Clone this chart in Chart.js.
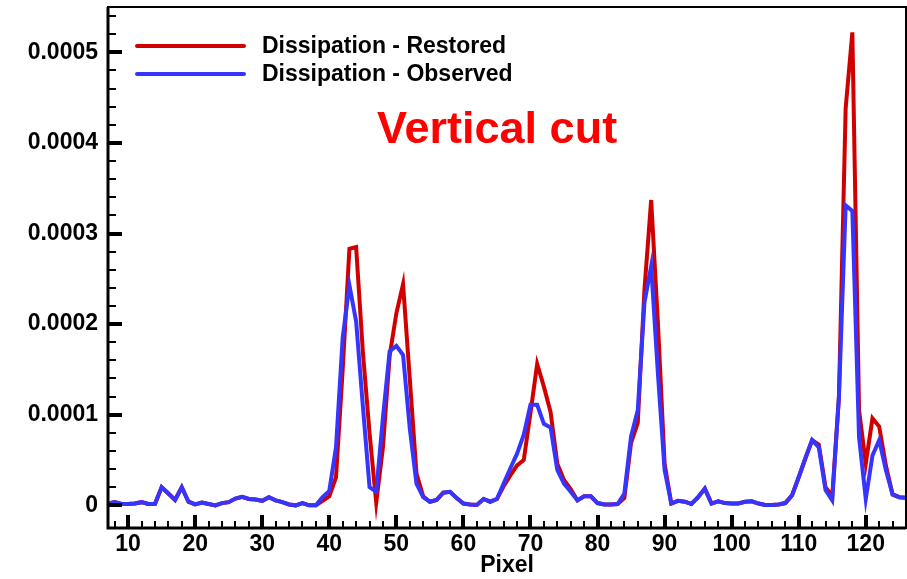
<!DOCTYPE html>
<html>
<head>
<meta charset="utf-8">
<script src="https://cdn.jsdelivr.net/npm/chart.js@4/dist/chart.umd.min.js"></script>
<style>
  html, body { margin: 0; padding: 0; background: #fff; }
  #wrap { width: 907px; height: 579px; }
</style>
</head>
<body>
<div id="wrap"><canvas id="cut"></canvas></div>
<script>
"use strict";

// pixel index along the vertical cut
const pixels = [
  7, 8, 9, 10, 11, 12, 13, 14, 15, 16, 17, 18, 19, 20, 21, 22, 23, 24, 25, 26,
  27, 28, 29, 30, 31, 32, 33, 34, 35, 36, 37, 38, 39, 40, 41, 42, 43, 44, 45, 46,
  47, 48, 49, 50, 51, 52, 53, 54, 55, 56, 57, 58, 59, 60, 61, 62, 63, 64, 65, 66,
  67, 68, 69, 70, 71, 72, 73, 74, 75, 76, 77, 78, 79, 80, 81, 82, 83, 84, 85, 86,
  87, 88, 89, 90, 91, 92, 93, 94, 95, 96, 97, 98, 99, 100, 101, 102, 103, 104, 105, 106,
  107, 108, 109, 110, 111, 112, 113, 114, 115, 116, 117, 118, 119, 120, 121, 122, 123, 124, 125, 126
];

// dissipation, in units of 1e-5
const restored = [
  0.2, 0.35, 0.15, 0.15, 0.2, 0.35, 0.15, 0.15, 2.0, 1.3, 0.6, 2.0, 0.4, 0.1, 0.3, 0.15, 0.0, 0.25, 0.35, 0.75,
  0.95, 0.7, 0.65, 0.5, 0.9, 0.55, 0.35, 0.1, 0.0, 0.25, 0.0, 0.0, 0.5, 1.0, 3.1, 15, 28.3, 28.5, 17, 8,
  0.3, 6.4, 16.5, 21.2, 24.4, 14, 3.5, 1.0, 0.4, 0.6, 1.4, 1.5, 0.8, 0.2, 0.1, 0.05, 0.7, 0.4, 0.7, 2.1,
  3.3, 4.4, 5.0, 10.2, 15.6, 13.1, 10.3, 4.6, 2.8, 1.8, 0.55, 1.0, 1.0, 0.25, 0.1, 0.1, 0.15, 0.8, 6.9, 9.1,
  23.8, 33.7, 20.2, 4.6, 0.2, 0.5, 0.4, 0.15, 0.9, 1.85, 0.2, 0.45, 0.25, 0.2, 0.2, 0.4, 0.45, 0.2, 0.05, 0.05,
  0.1, 0.25, 1.1, 3.1, 5.2, 7.2, 6.7, 2.0, 1.0, 12, 43.8, 52.2, 10.5, 4.6, 9.6, 8.7, 4.4, 1.2, 0.9, 0.85
];

const observed = [
  0.2, 0.35, 0.15, 0.15, 0.2, 0.35, 0.15, 0.15, 2.0, 1.3, 0.6, 2.0, 0.4, 0.1, 0.3, 0.15, 0.0, 0.25, 0.35, 0.75,
  0.95, 0.7, 0.65, 0.5, 0.9, 0.55, 0.35, 0.1, 0.0, 0.25, 0.0, 0.0, 0.9, 1.6, 6.4, 18.5, 24.3, 20.3, 11, 2.0,
  1.5, 9.7, 17.0, 17.6, 16.6, 8.5, 2.4, 0.9, 0.4, 0.6, 1.4, 1.5, 0.8, 0.2, 0.1, 0.05, 0.7, 0.4, 0.7, 2.4,
  4.1, 5.7, 7.8, 11.1, 11.1, 9.0, 8.6, 3.9, 2.4, 1.5, 0.55, 1.0, 1.0, 0.25, 0.1, 0.1, 0.15, 1.3, 7.6, 10.5,
  22.4, 26.4, 14.6, 3.9, 0.2, 0.5, 0.4, 0.15, 0.9, 1.85, 0.2, 0.45, 0.25, 0.2, 0.2, 0.4, 0.45, 0.2, 0.05, 0.05,
  0.1, 0.25, 1.1, 3.1, 5.2, 7.2, 6.4, 1.7, 0.55, 12, 33.1, 32.5, 7.5, 0.7, 5.5, 7.2, 3.9, 1.2, 0.9, 0.85
];

const yTickValues = [0, 10, 20, 30, 40, 50];
const yTickLabels = ['0', '0.0001', '0.0002', '0.0003', '0.0004', '0.0005'];
const seriesNames = ['Dissipation - Restored', 'Dissipation - Observed'];

const RED = '#d10000';
const BLUE = '#3535ff';
const FONT = '"Liberation Sans", Arial, sans-serif';

function toPoints(ys) {
  return pixels.map((p, i) => ({ x: p, y: ys[i] }));
}

// ticks pointing into the plot, box frame, legend and caption
const decorations = {
  id: 'decorations',
  afterDatasetsDraw(chart) {
    let ctx = chart.ctx;
    let area = chart.chartArea;
    let xs = chart.scales.x;
    let ys = chart.scales.y;

    ctx.save();
    ctx.strokeStyle = '#000';
    ctx.lineCap = 'butt';

    // y ticks: minor every 2, major every 10
    for (let v = 0; v <= 54; v += 2) {
      let py = Math.round(ys.getPixelForValue(v));
      let major = v % 10 === 0;
      ctx.lineWidth = major ? 4 : 2;
      ctx.beginPath();
      ctx.moveTo(area.left, py);
      ctx.lineTo(area.left + (major ? 14 : 8), py);
      ctx.stroke();
    }

    // x ticks: minor every 2, major every 10
    for (let v = 8; v <= 126; v += 2) {
      let px = Math.round(xs.getPixelForValue(v));
      let major = v % 10 === 0;
      ctx.lineWidth = major ? 4 : 2;
      ctx.beginPath();
      ctx.moveTo(px, area.bottom);
      ctx.lineTo(px, area.bottom - (major ? 13 : 7));
      ctx.stroke();
    }

    // frame
    ctx.lineWidth = 2;
    ctx.strokeRect(area.left, area.top, area.right - area.left, area.bottom - area.top);
    ctx.lineWidth = 3;
    ctx.beginPath();
    ctx.moveTo(area.left, area.top);
    ctx.lineTo(area.left, area.bottom);
    ctx.lineTo(area.right, area.bottom);
    ctx.stroke();

    // legend
    let colors = [RED, BLUE];
    let rows = [46, 74];
    ctx.lineWidth = 4;
    ctx.lineCap = 'round';
    ctx.font = 'bold 23px ' + FONT;
    ctx.textBaseline = 'middle';
    ctx.textAlign = 'left';
    seriesNames.forEach((name, i) => {
      ctx.strokeStyle = colors[i];
      ctx.beginPath();
      ctx.moveTo(137, rows[i]);
      ctx.lineTo(244, rows[i]);
      ctx.stroke();
      ctx.fillStyle = '#000';
      ctx.fillText(name, 262, rows[i] + 1);
    });

    // caption
    ctx.fillStyle = '#ff0000';
    ctx.font = 'bold 45px ' + FONT;
    ctx.fillText('Vertical cut', 377, 131);

    ctx.restore();
  }
};

let chart = new Chart(document.getElementById('cut').getContext('2d'), {
  type: 'line',
  data: {
    datasets: [{
      label: seriesNames[0],
      data: toPoints(restored),
      borderColor: RED,
      borderWidth: 4,
      pointRadius: 0,
      tension: 0,
      order: 2
    }, {
      label: seriesNames[1],
      data: toPoints(observed),
      borderColor: BLUE,
      borderWidth: 4,
      pointRadius: 0,
      tension: 0,
      order: 1
    }]
  },
  options: {
    responsive: true,
    maintainAspectRatio: false,
    animation: false,
    events: [],
    layout: {
      padding: { top: 7, right: 1, left: 0, bottom: 0 }
    },
    plugins: {
      legend: { display: false },
      tooltip: { enabled: false }
    },
    scales: {
      x: {
        type: 'linear',
        min: 7,
        max: 126,
        grid: { display: false, drawTicks: false },
        border: { display: false },
        ticks: {
          stepSize: 10,
          includeBounds: false,
          padding: 3,
          maxRotation: 0,
          color: '#000',
          font: { family: FONT, size: 23, weight: 'bold' }
        },
        title: {
          display: true,
          text: 'Pixel',
          color: '#000',
          padding: { top: 0, bottom: 0 },
          font: { family: FONT, size: 23, weight: 'bold' }
        },
        afterFit(scale) {
          scale.height = 51;
          scale.paddingLeft = 0;
          scale.paddingRight = 0;
        }
      },
      y: {
        min: -2.5,
        max: 55,
        grid: { display: false, drawTicks: false },
        border: { display: false },
        ticks: {
          stepSize: 10,
          includeBounds: false,
          padding: 10,
          color: '#000',
          font: { family: FONT, size: 23, weight: 'bold' },
          callback: function (v) {
            let i = yTickValues.indexOf(v);
            return i >= 0 ? yTickLabels[i] : '';
          }
        },
        afterFit(scale) {
          scale.width = 108;
          scale.paddingTop = 0;
          scale.paddingBottom = 0;
        }
      }
    }
  },
  plugins: [decorations]
});
</script>
</body>
</html>
